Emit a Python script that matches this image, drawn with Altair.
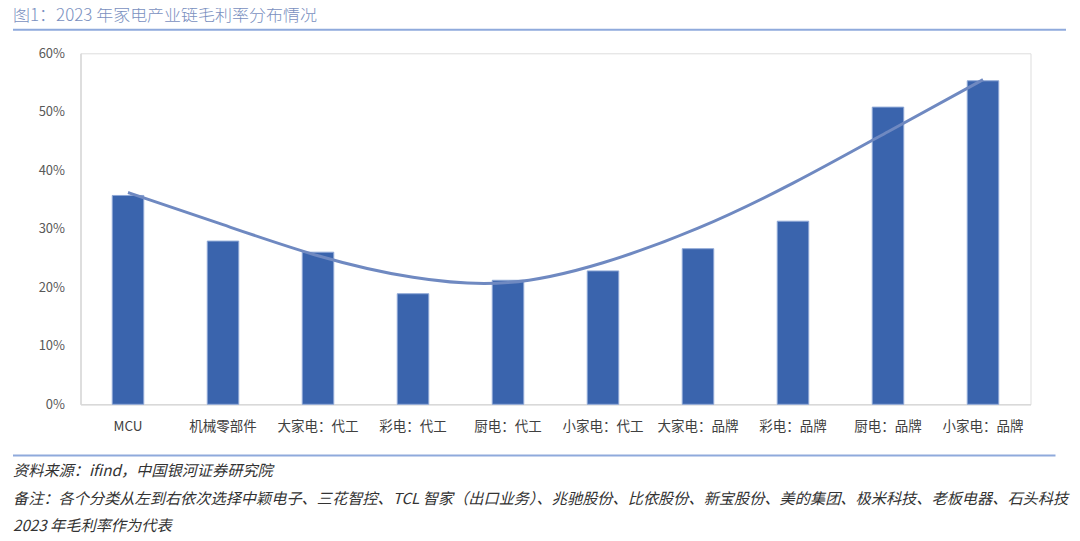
import altair as alt
import pandas as pd

categories = ["MCU", "机械零部件", "大家电：代工", "彩电：代工", "厨电：代工",
              "小家电：代工", "大家电：品牌", "彩电：品牌", "厨电：品牌", "小家电：品牌"]
gross_margin = [35.7, 27.9, 26.0, 18.9, 21.2, 22.8, 26.6, 31.3, 50.8, 55.3]
trend_curve = [36.2, 30.7, 25.4, 21.7, 20.8, 24.2, 30.1, 37.8, 46.6, 55.5]
y_ticks = [0, 10, 20, 30, 40, 50, 60]

title_text = "图1：2023 年家电产业链毛利率分布情况"
notes = [
    "资料来源：ifind，中国银河证券研究院",
    "备注：各个分类从左到右依次选择中颖电子、三花智控、TCL 智家（出口业务）、兆驰股份、比依股份、新宝股份、美的集团、极米科技、老板电器、石头科技",
    "2023 年毛利率作为代表",
]
note_rows = [417.7, 445.7, 472.5]

df = pd.DataFrame({"cat": categories, "v": gross_margin, "trend": trend_curve})

FONT = "Noto Sans CJK SC"

x = alt.X("cat:N", sort=categories, title=None,
          scale=alt.Scale(paddingInner=0, paddingOuter=0),
          axis=alt.Axis(labelAngle=0, labelFontSize=13.5, labelColor="#404040",
                        labelFont=FONT, ticks=False, domainColor="#D9D9D9",
                        domainWidth=1.5, labelPadding=15))
y = alt.Y("v:Q", title=None,
          scale=alt.Scale(domain=[0, 60]),
          axis=alt.Axis(values=y_ticks, labelExpr="datum.value + '%'", grid=False,
                        ticks=False, domainColor="#D9D9D9", domainWidth=1.5,
                        labelFontSize=13, labelColor="#595959", labelFont=FONT,
                        labelPadding=16))

bars = alt.Chart(df).mark_bar(width=31.5, color="#3A64AD", stroke="#8FA8D6",
                              strokeWidth=1).encode(x=x, y=y)

line = alt.Chart(df).mark_line(color="#6F89C1", strokeWidth=3,
                               interpolate="natural").encode(
    x=alt.X("cat:N", sort=categories),
    y=alt.Y("trend:Q"))

title = alt.Chart(pd.DataFrame({"t": [title_text]})).mark_text(
    align="left", baseline="top", fontSize=17, font=FONT, color="#7A90C0",
    fontWeight=300
).encode(x=alt.value(-67.5), y=alt.value(-44.8), text="t:N")

top_rule = alt.Chart(pd.DataFrame({"a": [0]})).mark_rule(
    color="#8FAADC", strokeWidth=2).encode(
    x=alt.value(-67.5), x2=alt.value(985.5), y=alt.value(-23.5))

bottom_rule = alt.Chart(pd.DataFrame({"a": [0]})).mark_rule(
    color="#8FAADC", strokeWidth=2).encode(
    x=alt.value(-67.5), x2=alt.value(975), y=alt.value(402.2))

note_layers = []
for t, yy in zip(notes, note_rows):
    note_layers.append(
        alt.Chart(pd.DataFrame({"t": [t]})).mark_text(
            align="left", baseline="middle", fontSize=15.2, font=FONT,
            fontStyle="italic", color="#333333"
        ).encode(x=alt.value(-67.5), y=alt.value(yy), text="t:N")
    )

chart = alt.layer(bars, line, title, top_rule, bottom_rule, *note_layers).properties(
    width=950, height=351,
    autosize=alt.AutoSizeParams(type="none"),
    padding={"left": 72.5, "top": 45.3, "right": 40, "bottom": 133},
).configure_view(stroke=None).configure(background="white")

chart.save("out.html", embed_options={"renderer": "svg", "actions": False})
